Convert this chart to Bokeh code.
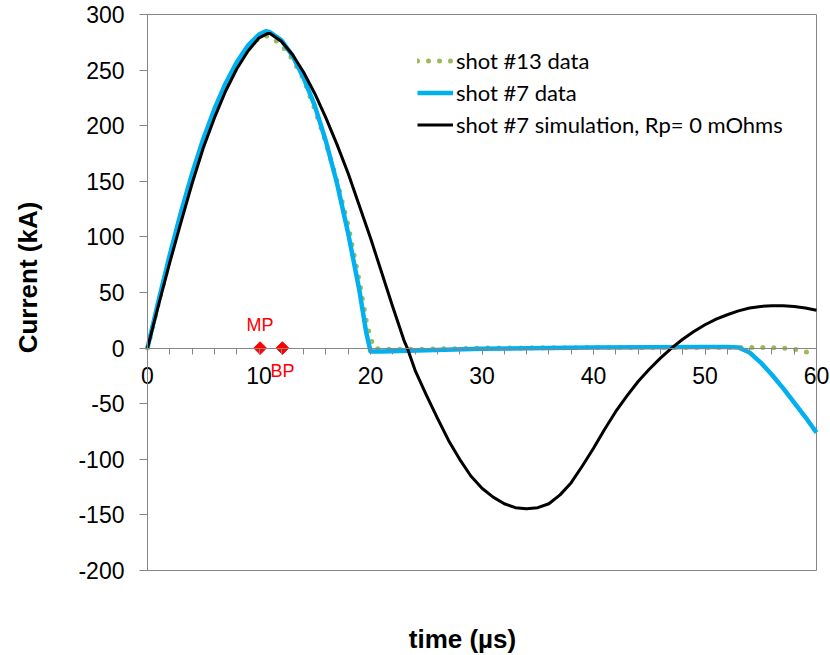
import math
from bokeh.plotting import figure
from bokeh.models import (Range1d, FixedTicker, Label, Legend, LegendItem,
                          ColumnDataSource)
from bokeh.core.properties import value
from bokeh.embed import file_html
from bokeh.resources import INLINE

# ---- data (time in microseconds, current in kA) ----
t_green = [0, 1, 2, 3, 4, 5, 6, 7, 8, 9, 10, 10.5, 11, 12, 13, 14, 15, 16, 17, 18,
           19, 19.7, 20.3, 21, 25, 30, 40, 50, 55, 57, 58, 59, 60]
i_green = [0, 41, 81, 119, 154, 185, 212, 235, 254, 269, 279, 281, 280, 273, 260, 242,
           215, 185, 150, 110, 60, 20, 0, -1, -1, 0, 0.5, 0.5, 0.5, 0, -1, -3, -7]

t_blue = [0, 1, 2, 3, 4, 5, 6, 7, 8, 9, 10, 10.6, 11, 12, 13, 14, 15, 16, 17, 18, 19,
          19.6, 20, 21, 25, 30, 40, 50, 52, 53, 54, 55, 56, 57, 58, 59, 60]
i_blue = [0, 43, 84, 122, 157, 188, 215, 238, 257, 272, 282, 285, 284, 277, 263, 243,
          218, 186, 148, 103, 52, 15, -3, -3, -2, -0.5, 0.5, 1, 1, 0.5, -4, -13, -24,
          -36, -49, -62, -76]

t_sim = [0, 1, 2, 3, 4, 5, 6, 7, 8, 9, 10, 10.8, 11, 12, 13, 14, 15, 16, 17, 18, 19,
         20, 21, 22, 23, 23.3, 24, 25, 26, 27, 28, 29, 30, 31, 32, 33, 34, 35, 36, 37,
         38, 39, 40, 41, 42, 43, 44, 45, 46, 47, 48, 49, 50, 51, 52, 53, 54, 55, 56,
         57, 58, 59, 60]
i_sim = [0, 39, 77, 113, 148, 180, 207, 231, 251, 267, 279, 283, 283, 276, 264, 248,
         229, 207, 183, 157, 128, 99, 68, 37, 7, 0, -20, -42, -63, -83, -100, -115,
         -126, -134, -140, -143.5, -144.5, -143.5, -140, -132, -121, -106, -90, -73,
         -57, -43, -30, -19, -9, 0, 8, 15, 21, 26, 30, 33.5, 36, 37.5, 38, 38, 37.5,
         36, 34]

mark_t = [10.1, 12.1]
mark_i = [0, 0]
mark_names = ["MP", "BP"]

series_names = ["shot #13 data", "shot #7 data", "shot #7 simulation, Rp= 0 mOhms"]
x_ticks = [0, 10, 20, 30, 40, 50, 60]
x_minor = list(range(0, 61, 2))
y_ticks = [-200, -150, -100, -50, 0, 50, 100, 150, 200, 250, 300]
x_title = "time (\u00b5s)"
y_title = "Current (kA)"

AXIS_GREY = "#868686"
TICK_FONT = "Liberation Sans"

# pixel geometry of the plot area inside the 830x655 canvas
W, H = 830, 655
PX_L, PX_R, PX_T, PX_B = 147, 816, 14, 570
XMIN, XMAX = x_ticks[0], x_ticks[-1]
YMIN, YMAX = y_ticks[0], y_ticks[-1]
sx = (PX_R - PX_L) / (XMAX - XMIN)
sy = (PX_B - PX_T) / (YMAX - YMIN)
x_lo = XMIN - PX_L / sx
x_hi = XMAX + (W - PX_R) / sx
y_hi = YMAX + PX_T / sy
y_lo = YMIN - (H - PX_B) / sy


def dx(px):
    return XMIN + (px - PX_L) / sx


def dy(py):
    return YMAX - (py - PX_T) / sy


p = figure(width=W, height=H, output_backend="svg", toolbar_location=None,
           x_range=Range1d(x_lo, x_hi), y_range=Range1d(y_lo, y_hi),
           min_border=0)
p.grid.visible = False
p.outline_line_color = None
p.background_fill_color = "white"
p.border_fill_color = "white"

# plot-area border
p.quad(left=[XMIN], right=[XMAX], bottom=[YMIN], top=[YMAX], fill_color=None,
       line_color=AXIS_GREY, line_width=1)

# x axis crossing at zero
xa = p.xaxis[0]
xa.fixed_location = 0
xa.bounds = (XMIN, XMAX)
xa.ticker = FixedTicker(ticks=x_ticks, minor_ticks=x_minor)
xa.axis_line_color = AXIS_GREY
xa.major_tick_line_color = AXIS_GREY
xa.minor_tick_line_color = AXIS_GREY
xa.major_tick_in = 0
xa.major_tick_out = 6
xa.minor_tick_in = 0
xa.minor_tick_out = 6
xa.major_label_standoff = 13
xa.major_label_text_font = TICK_FONT
xa.major_label_text_font_size = "23px"
xa.major_label_text_color = "black"

ya = p.yaxis[0]
ya.fixed_location = XMIN
ya.bounds = (YMIN, YMAX)
ya.ticker = FixedTicker(ticks=y_ticks, minor_ticks=[])
ya.major_label_overrides = {v: str(v) for v in y_ticks}
ya.axis_line_color = AXIS_GREY
ya.major_tick_line_color = AXIS_GREY
ya.major_tick_in = 0
ya.major_tick_out = 8
ya.major_label_standoff = 15
ya.major_label_text_font = TICK_FONT
ya.major_label_text_font_size = "23px"
ya.major_label_text_color = "black"

# series
r_green = p.line(t_green, i_green, line_color="#9BBB59", line_width=5,
                 line_dash="0 11", line_cap="round")
r_blue = p.line(t_blue, i_blue, line_color="#00B0F0", line_width=4.5,
                line_join="round")
r_sim = p.line(t_sim, i_sim, line_color="black", line_width=3, line_join="round")

# markers
src = ColumnDataSource(dict(t=mark_t, i=mark_i, name=mark_names))
p.scatter("t", "i", source=src, marker="square", size=9, angle=math.pi / 4,
          fill_color="#FF0000", line_color="#FF0000")
p.text(x=[mark_t[0]], y=[mark_i[0]], text=[mark_names[0]], text_align="center",
       text_baseline="middle", y_offset=-23, text_color="#FF0000",
       text_font=value("Liberation Sans"), text_font_size="18px")
p.text(x=[mark_t[1]], y=[mark_i[1]], text=[mark_names[1]], text_align="center",
       text_baseline="middle", y_offset=23, text_color="#FF0000",
       text_font=value("Liberation Sans"), text_font_size="18px")

legend = Legend(items=[LegendItem(label=series_names[0], renderers=[r_green]),
                       LegendItem(label=series_names[1], renderers=[r_blue]),
                       LegendItem(label=series_names[2], renderers=[r_sim])],
                location=(417, H - 46 - 93))
legend.glyph_width = 36
legend.glyph_height = 29
legend.label_height = 29
legend.spacing = 3
legend.padding = 0
legend.margin = 0
legend.label_standoff = 3
legend.border_line_color = None
legend.background_fill_alpha = 0
legend.label_text_font = "Lato"
legend.label_text_font_size = "22px"
legend.label_text_color = "black"
p.add_layout(legend, "center")

# axis titles
p.add_layout(Label(x=dx(27), y=dy(277), text=y_title, angle=math.pi / 2,
                   text_align="center", text_baseline="middle",
                   text_font="Liberation Sans", text_font_style="bold",
                   text_font_size="26px", text_color="black"))
p.add_layout(Label(x=dx(462), y=dy(638), text=x_title,
                   text_align="center", text_baseline="middle",
                   text_font="Liberation Sans", text_font_style="bold",
                   text_font_size="26px", text_color="black"))

open("out.html", "w").write(file_html(p, INLINE))
